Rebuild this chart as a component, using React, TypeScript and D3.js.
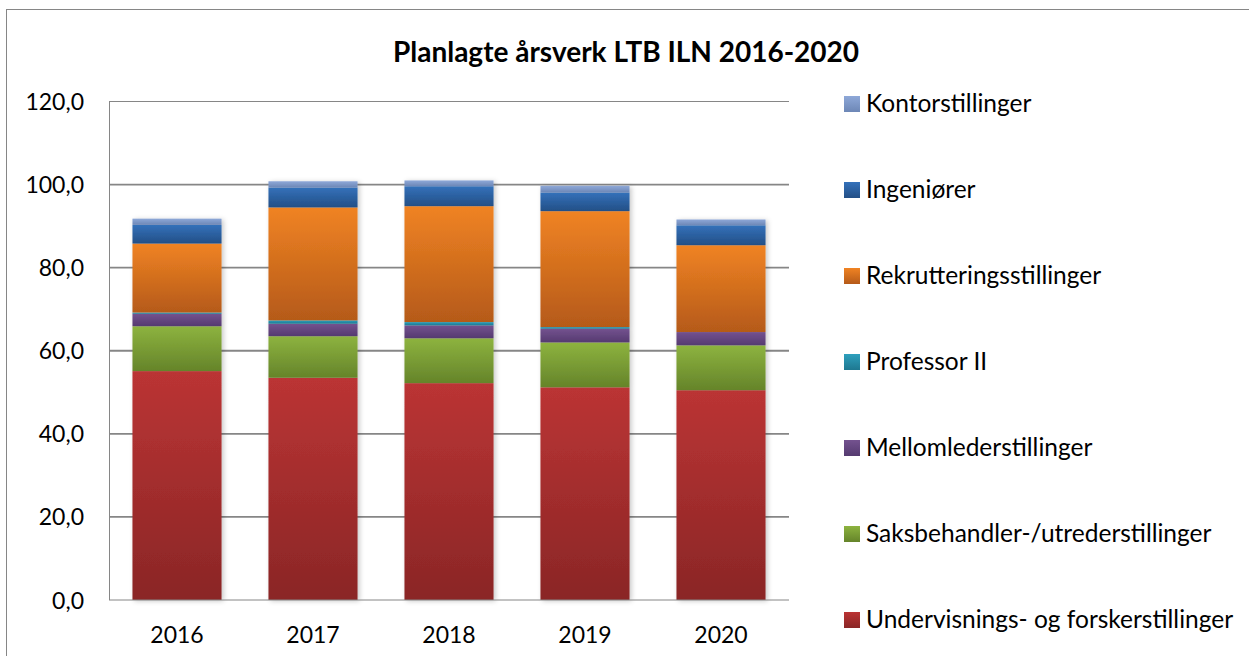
import React, { useEffect, useRef } from "react";
import * as d3 from "d3";

const years = ["2016", "2017", "2018", "2019", "2020"];
const undervisning = [55.1, 53.5, 52.2, 51.2, 50.5];
const saksbehandler = [10.8, 10.0, 10.8, 10.8, 10.8];
const mellomleder = [3.0, 3.0, 3.1, 3.3, 3.2];
const professorII = [0.3, 0.8, 0.8, 0.4, 0.0];
const rekruttering = [16.6, 27.2, 27.9, 27.9, 20.9];
const ingeniorer = [4.5, 4.8, 4.8, 4.5, 4.8];
const kontor = [1.5, 1.5, 1.4, 1.6, 1.4];
const yTicks = [0, 20, 40, 60, 80, 100, 120];

const seriesNames = [
  "Undervisnings- og forskerstillinger",
  "Saksbehandler-/utrederstillinger",
  "Mellomlederstillinger",
  "Professor II",
  "Rekrutteringsstillinger",
  "Ingeniører",
  "Kontorstillinger",
];
const seriesValues = [undervisning, saksbehandler, mellomleder, professorII, rekruttering, ingeniorer, kontor];
// top / bottom of each gradient
const colors: [string, string][] = [
  ["#bb3434", "#8a2626"],
  ["#8db33f", "#65842a"],
  ["#74528f", "#553a70"],
  ["#2ea0bd", "#1e7890"],
  ["#f08323", "#b55a19"],
  ["#3471ba", "#234f86"],
  ["#8ea8d8", "#6d87b6"],
];

export default function App() {
  const ref = useRef<SVGSVGElement>(null);
  const width = 1249;
  const height = 656;
  const plot = { left: 109, right: 789, top: 101.5, bottom: 600 };

  useEffect(() => {
    const svg = d3.select(ref.current);
    svg.selectAll("*").remove();
    const font = "Lato, 'Open Sans', sans-serif";

    const defs = svg.append("defs");
    colors.forEach((c, i) => {
      const g = defs.append("linearGradient").attr("id", `grad${i}`).attr("x1", 0).attr("y1", 0).attr("x2", 0).attr("y2", 1);
      g.append("stop").attr("offset", "0%").attr("stop-color", c[0]);
      g.append("stop").attr("offset", "100%").attr("stop-color", c[1]);
    });
    const f = defs.append("filter").attr("id", "shadow").attr("x", "-10%").attr("y", "-10%").attr("width", "130%").attr("height", "130%");
    f.append("feDropShadow").attr("dx", 2).attr("dy", 1).attr("stdDeviation", 2.5).attr("flood-color", "#000").attr("flood-opacity", 0.22);

    svg.append("rect").attr("width", width).attr("height", height).attr("fill", "#fff");
    svg.append("rect").attr("x", 6.5).attr("y", 9.5).attr("width", width).attr("height", height)
      .attr("fill", "none").attr("stroke", "#868686").attr("stroke-width", 1);

    const x = d3.scaleBand().domain(years).range([plot.left, plot.right]).paddingInner(0.345).paddingOuter(0.1725);
    const y = d3.scaleLinear().domain([0, 120]).range([plot.bottom, plot.top]);

    // gridlines
    svg.append("g").selectAll("line").data(yTicks.slice(1)).enter().append("line")
      .attr("x1", plot.left).attr("x2", plot.right)
      .attr("y1", (d) => y(d)).attr("y2", (d) => y(d))
      .attr("stroke", "#868686").attr("stroke-width", (d) => (d === 120 ? 1 : 1.8));
    svg.append("line").attr("x1", plot.left + 0.5).attr("x2", plot.left + 0.5).attr("y1", plot.top).attr("y2", plot.bottom)
      .attr("stroke", "#868686").attr("stroke-width", 1);

    const table = years.map((yr, i) => {
      const row: any = { year: yr };
      seriesNames.forEach((s, j) => (row[s] = seriesValues[j][i]));
      return row;
    });
    const stacked = d3.stack().keys(seriesNames)(table);

    const bars = svg.append("g");
    years.forEach((yr, i) => {
      const g = bars.append("g").attr("filter", "url(#shadow)");
      stacked.forEach((layer, j) => {
        const d = layer[i];
        if (d[1] - d[0] <= 0) return;
        g.append("rect")
          .attr("x", x(yr)!)
          .attr("width", x.bandwidth())
          .attr("y", y(d[1]))
          .attr("height", y(d[0]) - y(d[1]))
          .attr("fill", `url(#grad${j})`);
      });
    });

    svg.append("line").attr("x1", plot.left).attr("x2", plot.right).attr("y1", plot.bottom).attr("y2", plot.bottom)
      .attr("stroke", "#868686").attr("stroke-width", 1);

    // y labels
    svg.append("g").selectAll("text").data(yTicks).enter().append("text")
      .attr("x", 84).attr("y", (d) => y(d) + 8.5)
      .attr("text-anchor", "end").attr("font-family", font).attr("font-size", 23).attr("fill", "#000")
      .text((d) => d3.format(".1f")(d).replace(".", ","));

    // x labels
    svg.append("g").selectAll("text").data(years).enter().append("text")
      .attr("x", (d) => x(d)! + x.bandwidth() / 2).attr("y", 643)
      .attr("text-anchor", "middle").attr("font-family", font).attr("font-size", 23).attr("fill", "#000")
      .text((d) => d);

    svg.append("text").attr("x", 626).attr("y", 62).attr("text-anchor", "middle")
      .attr("font-family", font).attr("font-weight", "bold").attr("font-size", 28).attr("fill", "#000")
      .text("Planlagte årsverk LTB ILN 2016-2020");

    // legend, top-down in reverse stack order
    const legendOrder = seriesNames.map((s, j) => ({ s, j })).reverse();
    const leg = svg.append("g").selectAll("g").data(legendOrder).enter().append("g")
      .attr("transform", (d, i) => `translate(844,${104 + i * 86})`);
    leg.append("rect").attr("x", 0).attr("y", -8).attr("width", 16).attr("height", 16)
      .attr("fill", (d) => `url(#grad${d.j})`);
    leg.append("text").attr("x", 22).attr("y", 8).attr("font-family", font).attr("font-size", 24.5).attr("fill", "#000")
      .text((d) => d.s);
  }, []);

  return <svg ref={ref} width={width} height={height} style={{ position: "absolute", left: 0, top: 0 }} />;
}
